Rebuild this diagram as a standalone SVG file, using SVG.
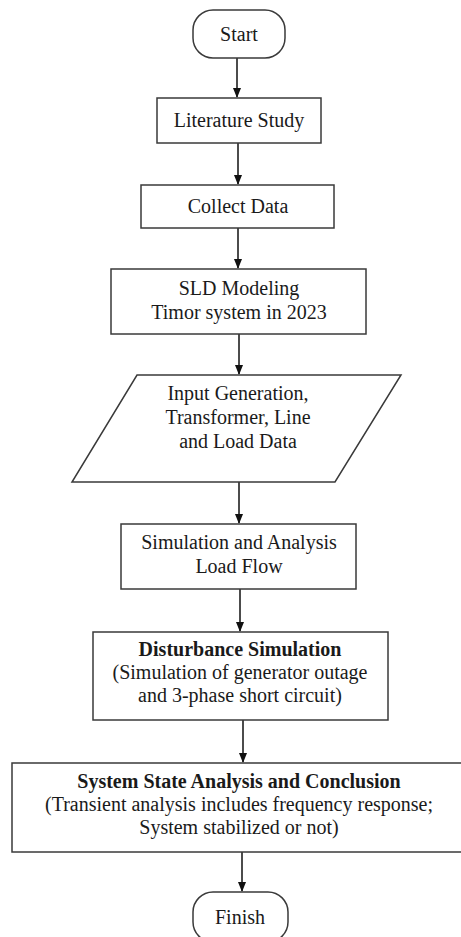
<svg xmlns="http://www.w3.org/2000/svg" width="461" height="937" viewBox="0 0 461 937">
<style>
.box{fill:#fff;stroke:#3a3a3a;stroke-width:1.5}
.t{font-family:"Liberation Serif","Times New Roman",serif;font-size:20px;fill:#1a1a1a;text-anchor:middle}
.b{font-weight:bold}
.c{stroke:#111;stroke-width:1.5;fill:none}
</style>
<defs>
<marker id="ah" markerWidth="10" markerHeight="10" refX="9" refY="5" orient="auto" markerUnits="userSpaceOnUse">
<path d="M0,1 L10,5 L0,9 Z" fill="#111"/>
</marker>
</defs>
<rect width="461" height="937" fill="#fff"/>
<g id="connectors">
<line class="c" x1="237" y1="58" x2="237" y2="97" marker-end="url(#ah)"/>
<line class="c" x1="238" y1="143" x2="238" y2="184" marker-end="url(#ah)"/>
<line class="c" x1="238" y1="228" x2="238" y2="268" marker-end="url(#ah)"/>
<line class="c" x1="239" y1="334" x2="239" y2="374" marker-end="url(#ah)"/>
<line class="c" x1="239" y1="482" x2="239" y2="523" marker-end="url(#ah)"/>
<line class="c" x1="240" y1="589" x2="240" y2="631" marker-end="url(#ah)"/>
<line class="c" x1="243" y1="720" x2="243" y2="762" marker-end="url(#ah)"/>
<line class="c" x1="242" y1="852" x2="242" y2="891" marker-end="url(#ah)"/>
</g>
<g id="start">
<rect class="box" x="193" y="10" width="92" height="48" rx="20" ry="20"/>
<text class="t" x="239" y="41">Start</text>
</g>
<g id="literature">
<rect class="box" x="157" y="98" width="164" height="45"/>
<text class="t" x="239" y="127">Literature Study</text>
</g>
<g id="collect">
<rect class="box" x="141" y="185" width="193" height="43"/>
<text class="t" x="238" y="213">Collect Data</text>
</g>
<g id="sld">
<rect class="box" x="111" y="269" width="255" height="65"/>
<text class="t" x="239" y="295">SLD Modeling</text>
<text class="t" x="239" y="319">Timor system in 2023</text>
</g>
<g id="input">
<polygon class="box" points="137,375 401,375 335,482 72,482"/>
<text class="t" x="238" y="400">Input Generation,</text>
<text class="t" x="238" y="424">Transformer, Line</text>
<text class="t" x="238" y="448">and Load Data</text>
</g>
<g id="loadflow">
<rect class="box" x="121" y="524" width="235" height="65"/>
<text class="t" x="239" y="549">Simulation and Analysis</text>
<text class="t" x="239" y="573">Load Flow</text>
</g>
<g id="disturbance">
<rect class="box" x="93" y="632" width="295" height="88"/>
<text class="t b" x="240" y="656">Disturbance Simulation</text>
<text class="t" x="240" y="679">(Simulation of generator outage</text>
<text class="t" x="240" y="702">and 3-phase short circuit)</text>
</g>
<g id="analysis">
<rect class="box" x="12" y="763" width="456" height="89"/>
<text class="t b" x="239" y="788">System State Analysis and Conclusion</text>
<text class="t" x="239" y="811">(Transient analysis includes frequency response;</text>
<text class="t" x="239" y="834">System stabilized or not)</text>
</g>
<g id="finish">
<rect class="box" x="193" y="892" width="95" height="50" rx="20" ry="20"/>
<text class="t" x="240" y="924">Finish</text>
</g>
</svg>
